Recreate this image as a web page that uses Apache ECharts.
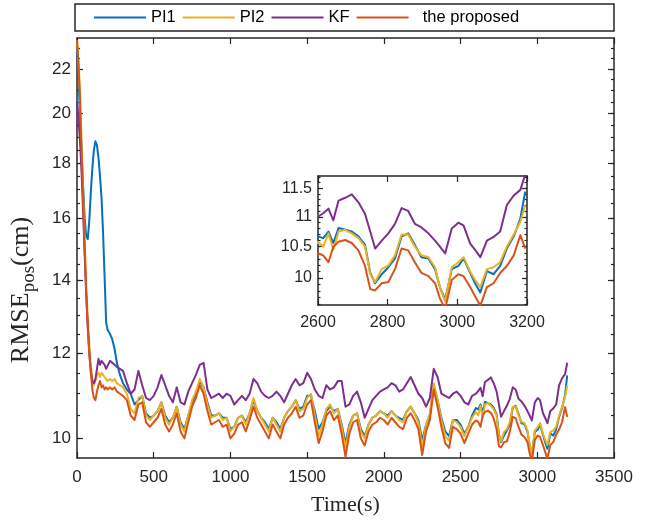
<!DOCTYPE html>
<html><head><meta charset="utf-8">
<script src="https://cdn.jsdelivr.net/npm/echarts@6/dist/echarts.min.js"></script>
<style>html,body{margin:0;padding:0;background:#fff}#c{width:663px;height:521px}</style>
</head><body><div id="c"></div>
<script>
// ---------------- data ----------------
const time = [0,10,20,30,40,50,60,70,80,90,100,110,120,130,140,150,160,170,180,190,200,215,230,245,260,280,300,
325,350,375,400,425,450,475,500,525,550,575,600,625,650,675,700,725,750,775,800,
825,850,875,900,925,950,975,1000,1025,1050,1075,1100,1125,1150,1175,1200,1225,1250,1275,1300,
1325,1350,1375,1400,1425,1450,1475,1500,1525,1550,1575,1600,1625,1650,1675,1700,1725,1750,1775,1800,
1825,1850,1875,1900,1925,1950,1975,2000,2025,2050,2075,2100,2125,2150,2175,2200,2225,2250,2275,2300,
2325,2350,2375,2400,2425,2450,2475,2500,2525,2550,2575,
2600,2615,2630,2644,2659,2678,2697,2716,2735,2750,2764,2783,2802,2821,2840,2859,2878,2897,2917,2936,
2950,2965,2984,3003,3018,3037,3051,3066,3085,3104,3123,3142,3162,3181,3195];

const pi1 = [23.0,21.5,19.9,18.4,17.1,16.0,15.4,15.3,15.9,16.9,17.8,18.5,18.85,18.7,18.2,17.5,16.7,15.5,14.1,12.8,12.6,12.5,12.35,12.1,11.75,11.45,11.25,
11.1,11.0,10.75,10.85,10.95,10.55,10.45,10.5,10.6,10.8,
10.5,10.35,10.45,10.7,10.35,10.2,10.5,10.8,11.0,11.3,
11.15,10.8,10.5,10.5,10.55,10.45,10.45,10.2,10.25,10.45,
10.5,10.35,10.55,10.85,10.6,10.45,10.35,10.2,10.45,10.35,
10.2,10.45,10.6,10.7,10.85,10.65,10.7,10.95,10.95,10.6,
10.2,10.35,10.6,10.7,10.6,10.65,10.3,9.9,10.3,10.5,
10.55,10.2,10.05,10.3,10.45,10.5,10.6,10.55,10.5,10.6,
10.5,10.45,10.4,10.6,10.7,10.55,10.4,9.95,10.3,10.5,
11.2,10.85,10.45,10.15,10.05,10.4,10.4,10.3,10.1,10.25,
10.5,
10.67,10.64,10.75,10.56,10.81,10.78,10.75,10.67,10.53,10.08,9.92,10.06,10.17,10.31,10.67,10.72,10.53,10.33,10.31,10.14,
9.86,9.67,10.14,10.19,10.31,10.08,9.92,9.78,10.11,10.06,10.19,10.47,10.67,10.97,11.44];

const pi2 = [23.4,22.3,20.8,18.7,16.9,15.3,13.9,12.9,12.2,11.7,11.35,11.2,11.3,11.45,11.5,11.4,11.5,11.45,11.4,11.35,11.3,11.35,11.3,11.35,11.25,11.2,11.15,
11.0,10.65,10.55,10.9,10.95,10.5,10.4,10.5,10.6,10.8,
10.45,10.3,10.45,10.7,10.3,10.15,10.5,10.85,11.05,11.35,
11.15,10.75,10.45,10.5,10.55,10.4,10.45,10.15,10.25,10.45,
10.5,10.3,10.55,10.9,10.6,10.45,10.3,10.15,10.45,10.3,
10.15,10.45,10.6,10.7,10.85,10.6,10.65,10.9,11.0,10.5,
10.05,10.3,10.65,10.75,10.55,10.65,10.25,9.8,10.25,10.5,
10.55,10.15,10.0,10.3,10.45,10.5,10.6,10.55,10.45,10.6,
10.5,10.4,10.35,10.6,10.7,10.55,10.35,9.82,10.3,10.55,
11.25,10.85,10.4,10.05,9.95,10.4,10.35,10.25,10.05,10.25,
10.45,
10.58,10.5,10.72,10.45,10.75,10.78,10.72,10.64,10.5,10.06,9.94,10.14,10.2,10.36,10.7,10.7,10.5,10.36,10.33,10.17,
9.86,9.64,10.17,10.25,10.33,10.1,9.97,9.86,10.14,10.17,10.25,10.5,10.7,10.92,11.2];

const kf = [20.5,19.8,18.8,17.6,16.2,14.8,13.6,12.7,12.0,11.55,11.3,11.25,11.35,11.6,11.85,11.7,11.8,11.85,11.7,11.6,11.6,11.8,11.75,11.7,11.65,11.6,11.55,
11.25,11.0,11.1,11.55,11.2,10.9,10.85,10.95,11.15,11.45,
11.2,10.95,10.8,11.15,10.8,10.75,11.05,11.25,11.45,11.7,
11.75,11.1,10.9,10.95,11.0,10.9,11.0,10.95,10.75,10.85,
10.95,10.85,11.0,11.35,11.25,11.05,10.95,10.9,10.95,11.05,
10.95,10.8,11.0,11.2,11.35,11.2,11.25,11.5,11.35,11.1,
10.95,10.9,11.2,11.1,11.15,11.3,11.3,10.7,10.75,10.95,
11.05,10.8,10.45,10.65,10.85,10.95,11.05,11.1,11.15,11.25,
11.2,11.05,11.1,11.25,11.4,11.2,11.0,10.9,10.7,10.9,
11.6,11.4,11.0,10.95,10.9,11.0,11.05,10.95,10.8,10.75,
10.95,
11.0,11.06,11.14,10.94,11.28,11.33,11.39,11.25,11.05,10.75,10.47,10.6,10.72,10.88,11.15,11.1,10.88,10.82,10.72,10.6,
10.5,10.39,10.8,10.9,10.85,10.55,10.45,10.33,10.6,10.66,10.75,11.2,11.37,11.47,11.75];

const proposed = [23.4,22.2,20.6,18.4,16.6,15.0,13.6,12.7,12.0,11.5,11.1,10.9,10.85,11.05,11.2,11.3,11.15,11.2,11.1,11.15,11.1,11.15,11.1,11.15,11.05,11.0,10.95,
10.85,10.5,10.4,10.75,10.8,10.35,10.25,10.35,10.45,10.65,
10.3,10.15,10.3,10.55,10.15,10.0,10.35,10.7,10.9,11.2,
11.0,10.6,10.3,10.35,10.4,10.25,10.3,10.0,10.1,10.3,
10.35,10.15,10.4,10.7,10.45,10.3,10.15,10.0,10.3,10.15,
10.0,10.3,10.45,10.55,10.7,10.45,10.5,10.75,10.85,10.35,
9.9,10.15,10.5,10.6,10.4,10.5,10.1,9.62,10.1,10.35,
10.4,10.0,9.85,10.15,10.3,10.35,10.45,10.4,10.3,10.45,
10.35,10.25,10.2,10.45,10.55,10.4,10.2,9.65,10.15,10.4,
11.1,10.7,10.25,9.9,9.8,10.25,10.2,10.1,9.9,10.1,
10.3,
10.39,10.36,10.25,10.5,10.58,10.61,10.56,10.44,10.19,9.83,9.81,9.92,9.94,10.14,10.47,10.44,10.25,10.08,10.03,9.92,
9.69,9.53,9.97,10.06,10.03,9.86,9.72,9.58,9.86,9.92,10.08,10.19,10.36,10.69,10.47];

const seriesNames = ['PI1','PI2','KF','the proposed'];
const seriesValues = [pi1, pi2, kf, proposed];

const mainYMajor = [10,12,14,16,18,20,22];
const mainYMinor = [10,10.5,11,11.5,12,12.5,13,13.5,14,14.5,15,15.5,16,16.5,17,17.5,18,18.5,19,19.5,20,20.5,21,21.5,22,22.5,23];
const insetYMajor = [10,10.5,11,11.5];
const insetYMinor = [9.6,9.7,9.8,9.9,10,10.1,10.2,10.3,10.4,10.5,10.6,10.7,10.8,10.9,11,11.1,11.2,11.3,11.4,11.5,11.6,11.7];
const mainYRange = [9.59, 23.5];
const insetYRange = [9.59, 11.72];
const mainXRange = [0, 3500, 500];
const insetXRange = [2600, 3200, 200];

// ---------------- styling ----------------
const colors = ['#0072BD','#EDB120','#7E2F8E','#D95319'];
const axisColor = '#262626';
const sans = 'Liberation Sans, Arial, sans-serif';
const serif = 'Liberation Serif, Times New Roman, serif';
const L = v => Math.log10(v);

const chart = echarts.init(document.getElementById('c'), null, {renderer: 'canvas'});

function xAx(grid, pos, range, showLabel, fontSize, margin, extra) {
  return Object.assign({
    type: 'value', gridIndex: grid, position: pos,
    min: range[0], max: range[1], interval: range[2],
    axisLine: {show: true, onZero: false, lineStyle: {color: axisColor, width: 1.5}},
    axisTick: {show: true, inside: true, length: 6, lineStyle: {color: axisColor, width: 1.2}},
    axisLabel: {show: showLabel, color: axisColor, fontSize: fontSize, fontFamily: sans, margin: margin,
      showMinLabel: true, showMaxLabel: true, formatter: v => String(v)},
    splitLine: {show: false}
  }, extra || {});
}
function yAx(grid, pos, range, ticks, len, showLine, labelOpt, extra) {
  return Object.assign({
    type: 'value', gridIndex: grid, position: pos,
    min: L(range[0]), max: L(range[1]),
    axisLine: {show: showLine, onZero: false, lineStyle: {color: axisColor, width: 1.5}},
    axisTick: {show: true, inside: true, length: len, customValues: ticks.map(L), lineStyle: {color: axisColor, width: 1.2}},
    axisLabel: labelOpt || {show: false},
    splitLine: {show: false}
  }, extra || {});
}

const mainLabel = {show: true, color: axisColor, fontSize: 17, fontFamily: sans, margin: 6,
  customValues: mainYMajor.map(L), formatter: v => String(Math.round(Math.pow(10, v)))};
const insetLabel = {show: true, color: axisColor, fontSize: 16, fontFamily: sans, margin: 6,
  customValues: insetYMajor.map(L), formatter: v => String(Math.round(Math.pow(10, v) * 2) / 2)};

const series = [];
seriesValues.forEach((vals, k) => {
  const data = time.map((t, i) => [t, L(vals[i])]);
  series.push({name: seriesNames[k], type: 'line', xAxisIndex: 0, yAxisIndex: 0, data: data,
    showSymbol: false, symbol: 'none', color: colors[k], lineStyle: {width: 2, color: colors[k], join: 'round'}, z: 2 + k, clip: true, animation: false});
  series.push({name: seriesNames[k], type: 'line', xAxisIndex: 2, yAxisIndex: 4, data: data,
    showSymbol: false, symbol: 'none', color: colors[k], lineStyle: {width: 2, color: colors[k], join: 'round'}, z: 2 + k, clip: true, animation: false});
});

chart.setOption({
  animation: false,
  backgroundColor: '#fff',
  grid: [
    {left: 74, top: 38, width: 540, height: 425, containLabel: false},
    {left: 318, top: 176, width: 209, height: 129, containLabel: false}
  ],
  legend: {
    data: seriesNames, left: 94, top: 9, padding: 0, icon: 'rect', itemWidth: 52, itemHeight: 2, itemGap: 7,
    textStyle: {fontSize: 16.5, fontFamily: sans, color: '#000'},
    formatter: n => n === 'the proposed' ? '  ' + n : n
  },
  graphic: [
    {type: 'rect', shape: {x: 75, y: 4, width: 539, height: 27}, style: {fill: 'none', stroke: axisColor, lineWidth: 1.5}, silent: true}
  ],
  xAxis: [
    xAx(0, 'bottom', mainXRange, true, 17, 11, {name: 'Time(s)', nameLocation: 'middle', nameGap: 36,
      nameTextStyle: {fontFamily: serif, fontSize: 22, color: axisColor}}),
    xAx(0, 'top', mainXRange, false, 17, 8),
    xAx(1, 'bottom', insetXRange, true, 16, 10),
    xAx(1, 'top', insetXRange, false, 16, 8)
  ],
  yAxis: [
    yAx(0, 'left', mainYRange, mainYMajor, 6, true, mainLabel, {
      name: '{a|RMSE}{b|pos}{a|(cm)}', nameLocation: 'middle', nameGap: 38, nameRotate: 90,
      nameTextStyle: {padding: [0, 84, 0, 0], rich: {
        a: {fontFamily: serif, fontSize: 26, color: axisColor},
        b: {fontFamily: serif, fontSize: 19, color: axisColor, padding: [17, 0, 0, 0]}
      }}}),
    yAx(0, 'left', mainYRange, mainYMinor, 3, false, null),
    yAx(0, 'right', mainYRange, mainYMajor, 6, true, null),
    yAx(0, 'right', mainYRange, mainYMinor, 3, false, null),
    yAx(1, 'left', insetYRange, insetYMajor, 5, true, insetLabel),
    yAx(1, 'left', insetYRange, insetYMinor, 2.5, false, null),
    yAx(1, 'right', insetYRange, insetYMajor, 5, true, null),
    yAx(1, 'right', insetYRange, insetYMinor, 2.5, false, null)
  ],
  series: series
});
</script>
</body></html>
